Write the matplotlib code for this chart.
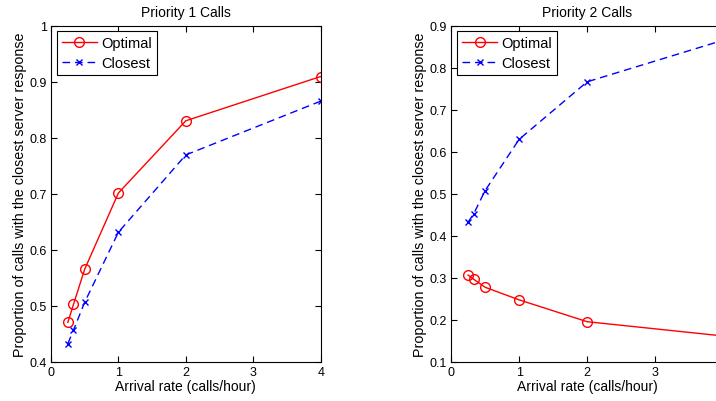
import matplotlib.pyplot as plt

plt.rcParams['font.family'] = ['Liberation Sans', 'DejaVu Sans']
plt.rcParams['font.size'] = 9

rates = [0.25, 1 / 3, 0.5, 1, 2, 4]

p1_optimal = [0.470, 0.502, 0.565, 0.701, 0.830, 0.909]
p1_closest = [0.432, 0.456, 0.506, 0.631, 0.769, 0.865]

p2_optimal = [0.306, 0.296, 0.277, 0.247, 0.195, 0.161]
p2_closest = [0.432, 0.452, 0.507, 0.629, 0.766, 0.865]

titles = ['Priority 1 Calls', 'Priority 2 Calls']
ylims = [(0.4, 1.0), (0.1, 0.9)]
yticks = [[0.4, 0.5, 0.6, 0.7, 0.8, 0.9, 1.0],
          [0.1, 0.2, 0.3, 0.4, 0.5, 0.6, 0.7, 0.8, 0.9]]
ytick_labels = [['0.4', '0.5', '0.6', '0.7', '0.8', '0.9', '1'],
                ['0.1', '0.2', '0.3', '0.4', '0.5', '0.6', '0.7', '0.8', '0.9']]

fig = plt.figure(figsize=(7.16, 4.02), dpi=100)
ax1 = fig.add_axes([0.0712, 0.098, 0.3767, 0.836])
# right panel runs past the edge of the figure
ax2 = fig.add_axes([0.630, 0.098, 0.380, 0.836])

series = [(p1_optimal, p1_closest), (p2_optimal, p2_closest)]

for i, ax in enumerate([ax1, ax2]):
    opt, clo = series[i]
    ax.plot(rates, opt, color='red', linestyle='-', linewidth=1,
            marker='o', markersize=7, markerfacecolor='none',
            markeredgecolor='red', label='Optimal')
    ax.plot(rates, clo, color='blue', linestyle=(0, (5.5, 3.5)), linewidth=1,
            marker='x', markersize=5, markeredgecolor='blue', label='Closest')
    ax.set_xlim(0, 4)
    ax.set_ylim(*ylims[i])
    ax.set_xticks([0, 1, 2, 3, 4])
    ax.set_xticklabels(['0', '1', '2', '3', '4'])
    ax.set_yticks(yticks[i])
    ax.set_yticklabels(ytick_labels[i])
    ax.tick_params(direction='in', top=True, right=True, length=4, width=0.8,
                   labelsize=9, pad=3)
    for sp in ax.spines.values():
        sp.set_linewidth(0.8)
    ax.set_title(titles[i], fontsize=10, pad=7)
    ax.set_xlabel('Arrival rate (calls/hour)', fontsize=10, labelpad=1)
    ax.set_ylabel('Proportion of calls with the closest server response',
                  fontsize=10.3, labelpad=2)
    leg = ax.legend(loc='upper left', fontsize=10.5, fancybox=False,
                    framealpha=1, edgecolor='black', handlelength=2.4,
                    borderpad=0.35, labelspacing=0.4, handletextpad=0.3,
                    borderaxespad=0.4)
    leg.get_frame().set_linewidth(0.8)

# the last x label of the right panel falls outside the figure
ax2.get_xticklabels()[-1].set_visible(False)

fig.savefig('out.png', dpi=100)
